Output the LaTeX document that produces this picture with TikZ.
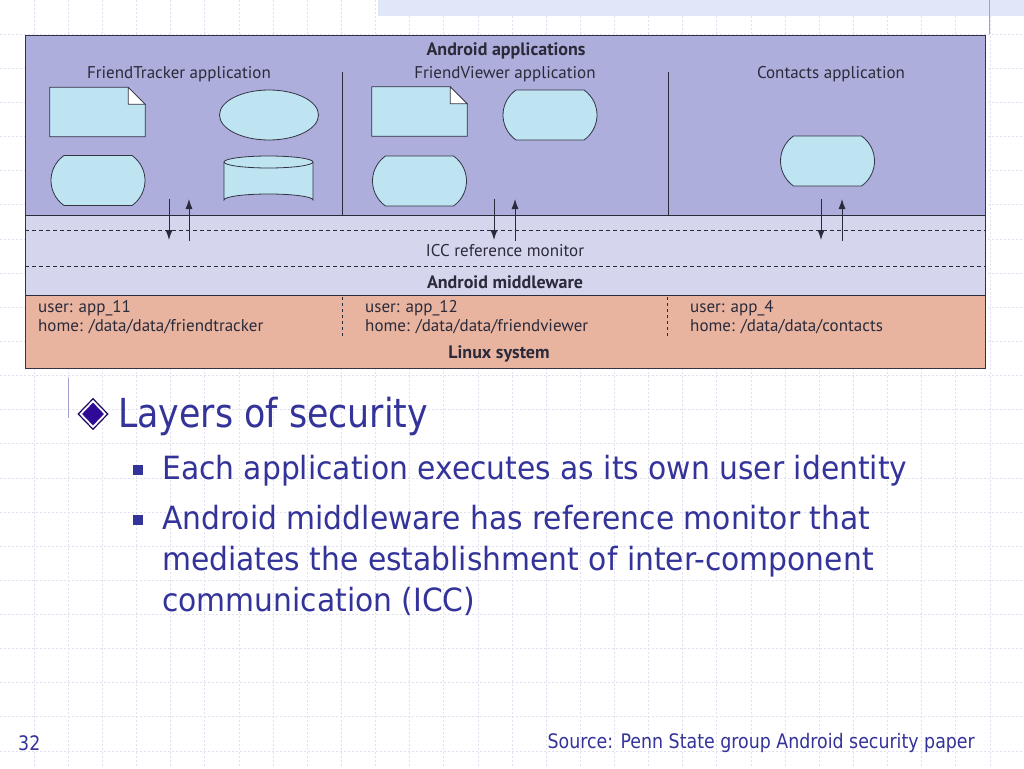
\documentclass[tikz,border=0pt]{standalone}
\usepackage{fontspec}
\setmainfont{DejaVu Sans}
\newfontfamily\diagfont{PT Sans}
\newfontfamily\slidefont[FakeStretch=0.87]{DejaVu Sans}
\newfontfamily\subfont[FakeStretch=0.93]{DejaVu Sans}
\usetikzlibrary{arrows.meta,shapes.misc,shapes.geometric,calc}
\definecolor{gridc}{HTML}{E0E0F2}
\definecolor{bandc}{HTML}{DFE7F8}
\definecolor{appc}{HTML}{AEAEDC}
\definecolor{iccc}{HTML}{D5D5EE}
\definecolor{linuxc}{HTML}{E8B4A0}
\definecolor{shapec}{HTML}{BEE4F2}
\definecolor{edgec}{HTML}{333344}
\definecolor{txtc}{HTML}{2A2A3A}
\definecolor{slidec}{HTML}{333399}
\definecolor{bulletc}{HTML}{2E0A96}
\definecolor{vlinec}{HTML}{A0A0D0}
\tikzset{
  dlabel/.style={font=\diagfont\fontsize{17}{19}\selectfont, text=txtc, inner sep=0pt},
  dbold/.style={dlabel, font=\diagfont\bfseries\fontsize{18}{20}\selectfont},
  dleft/.style={dlabel, anchor=west, align=left},
  pill/.style={rounded rectangle, rounded rectangle arc length=110, draw=edgec, fill=shapec, line width=0.8pt, minimum width=94pt, minimum height=50pt, inner sep=0pt},
  oval/.style={ellipse, draw=edgec, fill=shapec, line width=0.8pt, minimum width=99pt, minimum height=50pt, inner sep=0pt},
  docbox/.style={rectangle, minimum width=95pt, minimum height=49pt, inner sep=0pt},
  flow/.style={-{Latex[length=10pt,width=7pt]}, line width=0.9pt, draw=txtc},
  sepline/.style={line width=0.8pt, draw=txtc},
  dashline/.style={dashed, dash pattern=on 4pt off 3pt, line width=0.7pt, draw=txtc},
  slidetxt/.style={font=\subfont\fontsize{32}{38}\selectfont, text=slidec, anchor=base west, inner sep=0pt},
  foot/.style={font=\slidefont\fontsize{20}{24}\selectfont, text=slidec, inner sep=0pt}
}
\begin{document}
\begin{tikzpicture}[x=1pt,y=-1pt]
\useasboundingbox (0,0) rectangle (1024,768);
\fill[white] (0,0) rectangle (1024,768);
% background grid
\foreach \k in {1,...,29} \draw[gridc, line width=0.7pt, dash pattern=on 2pt off 2pt] ({\k*34.1333},0) -- ({\k*34.1333},768);
\foreach \k in {1,...,22} \draw[gridc, line width=0.7pt, dash pattern=on 2pt off 2pt] (0,{\k*34.1333}) -- (1024,{\k*34.1333});
\fill[bandc] (378,0) rectangle (1024,16);
\draw[vlinec, line width=0.8pt] (989,0) -- (989,34);
\draw[vlinec, line width=0.8pt] (68,378) -- (68,418);

% diagram layers
\fill[appc] (25,36) rectangle (985,215);
\fill[iccc] (25,215) rectangle (985,295);
\fill[linuxc] (25,295) rectangle (985,368);
\draw[sepline] (25,215) -- (985,215);
\draw[sepline] (25,295) -- (985,295);
\draw[dashline] (25,230) -- (985,230);
\draw[dashline] (25,266) -- (985,266);
\draw[line width=1pt, draw=edgec] (25,36) rectangle (985,368);
\draw[sepline] (342,72) -- (342,215);
\draw[sepline] (668,72) -- (668,215);
\draw[dashed, dash pattern=on 3pt off 3pt, line width=0.7pt, draw=txtc] (342,297) -- (342,338);
\draw[dashed, dash pattern=on 3pt off 3pt, line width=0.7pt, draw=txtc] (667,297) -- (667,338);

% titles
\node[dbold] (andapps) at (506,51) {Android applications};
\node[dlabel] (ftt) at (179,74) {FriendTracker application};
\node[dlabel] (fvt) at (505,74) {FriendViewer application};
\node[dlabel] (cat) at (831,74) {Contacts application};
\node[dlabel] (icc) at (505,251) {ICC reference monitor};
\node[dbold] (mid) at (505,282) {Android middleware};
\node[dbold] (lin) at (499,354) {Linux system};
\node[dleft] (u1) at (38,308) {user: app\_11};
\node[dleft] (h1) at (38,327) {home: /data/data/friendtracker};
\node[dleft] (u2) at (365,308) {user: app\_12};
\node[dleft] (h2) at (365,327) {home: /data/data/friendviewer};
\node[dleft] (u3) at (690,308) {user: app\_4};
\node[dleft] (h3) at (690,327) {home: /data/data/contacts};

% FriendTracker shapes
\node[docbox] (ftdoc) at (97.5,112) {};
\draw[draw=edgec, fill=shapec, line width=0.8pt] (ftdoc.north west) -- ($(ftdoc.north east)+(-17,0)$) -- ($(ftdoc.north east)+(0,17)$) -- (ftdoc.south east) -- (ftdoc.south west) -- cycle;
\draw[draw=edgec, fill=white, line width=0.8pt] ($(ftdoc.north east)+(-17,0)$) -- ($(ftdoc.north east)+(0,17)$) -- ($(ftdoc.north east)+(-17,17)$) -- cycle;
\node[oval] (ftell) at (269,115) {};
\node[pill] (ftpill) at (98,180.5) {};
\coordinate (ftcyl) at (268.5,181);
\draw[draw=edgec, fill=shapec, line width=0.8pt] ($(ftcyl)+(-44.5,-19)$) -- ($(ftcyl)+(-44.5,19)$) arc[start angle=180, end angle=360, x radius=44.5, y radius=6] -- ($(ftcyl)+(44.5,-19)$) arc[start angle=0, end angle=-180, x radius=44.5, y radius=6] -- cycle;
\draw[draw=edgec, line width=0.8pt] ($(ftcyl)+(-44.5,-19)$) arc[start angle=180, end angle=0, x radius=44.5, y radius=6];

% FriendViewer shapes
\node[docbox] (fvdoc) at (419.5,111.5) {};
\draw[draw=edgec, fill=shapec, line width=0.8pt] (fvdoc.north west) -- ($(fvdoc.north east)+(-17,0)$) -- ($(fvdoc.north east)+(0,17)$) -- (fvdoc.south east) -- (fvdoc.south west) -- cycle;
\draw[draw=edgec, fill=white, line width=0.8pt] ($(fvdoc.north east)+(-17,0)$) -- ($(fvdoc.north east)+(0,17)$) -- ($(fvdoc.north east)+(-17,17)$) -- cycle;
\node[pill] (fvpill1) at (550,115) {};
\node[pill] (fvpill2) at (419.5,181) {};

% Contacts shape
\node[pill] (capill) at (827.5,161) {};

% arrows
\coordinate (a1s) at (169,199); \coordinate (a1e) at (169,240);
\coordinate (b1s) at (189,241); \coordinate (b1e) at (189,199);
\coordinate (a2s) at (494,199); \coordinate (a2e) at (494,240);
\coordinate (b2s) at (515,241); \coordinate (b2e) at (515,199);
\coordinate (a3s) at (821,199); \coordinate (a3e) at (821,240);
\coordinate (b3s) at (842,241); \coordinate (b3e) at (842,199);
\draw[flow] (a1s) -- (a1e);
\draw[flow] (b1s) -- (b1e);
\draw[flow] (a2s) -- (a2e);
\draw[flow] (b2s) -- (b2e);
\draw[flow] (a3s) -- (a3e);
\draw[flow] (b3s) -- (b3e);

% slide text
\node[diamond, draw=bulletc!60!black, fill=white, line width=1.2pt, minimum width=30pt, minimum height=31pt, inner sep=0pt] (dia) at (93,414) {};
\node[diamond, fill=bulletc, minimum width=22pt, minimum height=23pt, inner sep=0pt] (diain) at (dia.center) {};
\node[slidetxt, font=\slidefont\fontsize{40}{46}\selectfont] (l1) at (118,427) {Layers of security};
\node[rectangle, fill=slidec, minimum size=10pt, inner sep=0pt] (sq1) at (138,470) {};
\node[slidetxt] (l2) at (162,479) {Each application executes as its own user identity};
\node[rectangle, fill=slidec, minimum size=10pt, inner sep=0pt] (sq2) at (138,520) {};
\node[slidetxt] (l3) at (162,529) {Android middleware has reference monitor that};
\node[slidetxt] (l4) at (162,570) {mediates the establishment of inter-component};
\node[slidetxt] (l5) at (162,611) {communication (ICC)};
\node[foot, anchor=west] (pg) at (18,743) {32};
\node[foot, anchor=east] (src) at (975,743) {Source: Penn State group Android security paper};
\end{tikzpicture}
\end{document}
